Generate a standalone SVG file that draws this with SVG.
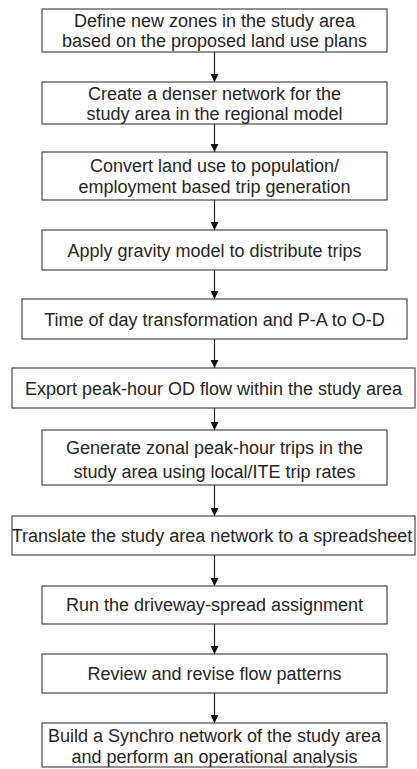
<svg xmlns="http://www.w3.org/2000/svg" width="417" height="769" viewBox="0 0 417 769">
<style>
.box{fill:#fff;stroke:#3a3a3a;stroke-width:1.1}
.t{font-family:"Liberation Sans",Arial,sans-serif;font-size:18px;fill:#262626;text-anchor:middle}
.c{stroke:#222;stroke-width:1.2;fill:none}
</style>
<defs>
<marker id="ah" viewBox="0 0 10 10" refX="10" refY="5" markerWidth="9" markerHeight="8" markerUnits="userSpaceOnUse" orient="auto">
<path d="M0,0 L10,5 L0,10 z" fill="#111"/>
</marker>
</defs>
<rect width="417" height="769" fill="#fff"/>
<g id="connectors">
<line class="c" x1="214.5" y1="52" x2="214.5" y2="82" marker-end="url(#ah)"/>
<line class="c" x1="214.5" y1="124" x2="214.5" y2="152" marker-end="url(#ah)"/>
<line class="c" x1="214.5" y1="200" x2="214.5" y2="230" marker-end="url(#ah)"/>
<line class="c" x1="214.5" y1="270" x2="214.5" y2="299" marker-end="url(#ah)"/>
<line class="c" x1="214.5" y1="339" x2="214.5" y2="368" marker-end="url(#ah)"/>
<line class="c" x1="214.5" y1="408" x2="214.5" y2="430" marker-end="url(#ah)"/>
<line class="c" x1="214.5" y1="485" x2="214.5" y2="516" marker-end="url(#ah)"/>
<line class="c" x1="214.5" y1="555" x2="214.5" y2="586" marker-end="url(#ah)"/>
<line class="c" x1="214.5" y1="624" x2="214.5" y2="654" marker-end="url(#ah)"/>
<line class="c" x1="214.5" y1="693" x2="214.5" y2="723" marker-end="url(#ah)"/>
</g>
<g id="n1"><rect class="box" x="42" y="9" width="345" height="43"/>
<text class="t" x="214.5" y="27">Define new zones in the study area</text>
<text class="t" x="214.5" y="47">based on the proposed land use plans</text></g>
<g id="n2"><rect class="box" x="42" y="82" width="345" height="42"/>
<text class="t" x="214.5" y="99.5">Create a denser network for the</text>
<text class="t" x="214.5" y="119.5">study area in the regional model</text></g>
<g id="n3"><rect class="box" x="42" y="152" width="345" height="48"/>
<text class="t" x="214.5" y="172">Convert land use to population/</text>
<text class="t" x="214.5" y="193">employment based trip generation</text></g>
<g id="n4"><rect class="box" x="42" y="230" width="345" height="40"/>
<text class="t" x="214.5" y="256.5">Apply gravity model to distribute trips</text></g>
<g id="n5"><rect class="box" x="22" y="299" width="385" height="40"/>
<text class="t" x="214.5" y="325.5">Time of day transformation and P-A to O-D</text></g>
<g id="n6"><rect class="box" x="12" y="368" width="403" height="40"/>
<text class="t" x="213.5" y="394.5">Export peak-hour OD flow within the study area</text></g>
<g id="n7"><rect class="box" x="42" y="430" width="345" height="55"/>
<text class="t" x="214.5" y="454">Generate zonal peak-hour trips in the</text>
<text class="t" x="214.5" y="478">study area using local/ITE trip rates</text></g>
<g id="n8"><rect class="box" x="12" y="516" width="403" height="39"/>
<text class="t" x="212" y="541.5">Translate the study area network to a spreadsheet</text></g>
<g id="n9"><rect class="box" x="42" y="586" width="345" height="38"/>
<text class="t" x="214.5" y="611">Run the driveway-spread assignment</text></g>
<g id="n10"><rect class="box" x="42" y="654" width="345" height="39"/>
<text class="t" x="214.5" y="680">Review and revise flow patterns</text></g>
<g id="n11"><rect class="box" x="42" y="723" width="345" height="44"/>
<text class="t" x="214.5" y="742">Build a Synchro network of the study area</text>
<text class="t" x="214.5" y="763">and perform an operational analysis</text></g>
</svg>
